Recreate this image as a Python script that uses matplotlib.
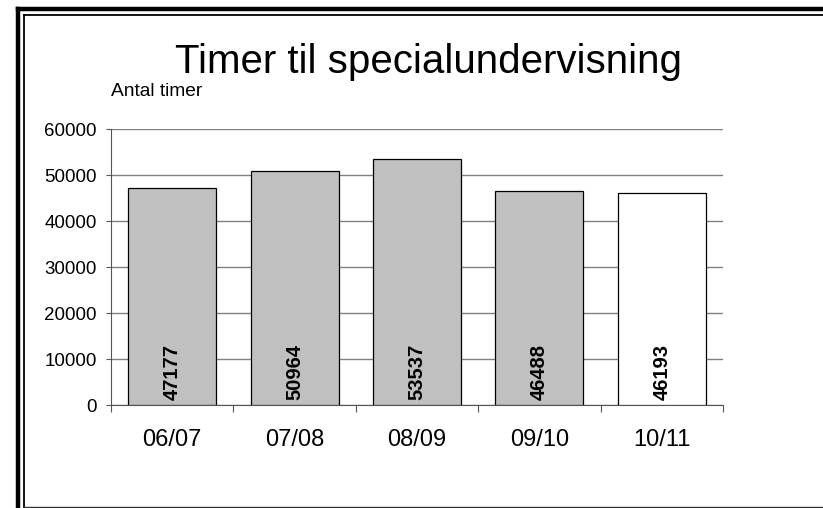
import matplotlib
matplotlib.use("Agg")
import matplotlib.pyplot as plt
from matplotlib.lines import Line2D

categories = ["06/07", "07/08", "08/09", "09/10", "10/11"]
values = [47177, 50964, 53537, 46488, 46193]
colors = ["#c0c0c0", "#c0c0c0", "#c0c0c0", "#c0c0c0", "#ffffff"]
yticks = [0, 10000, 20000, 30000, 40000, 50000, 60000]

W, H = 823, 508
fig = plt.figure(figsize=(W / 100, H / 100), dpi=100)
plt.rcParams['font.family'] = ['Liberation Sans', 'DejaVu Sans']

def fx(px):
    return px / W

def fy(py):
    return 1 - py / H

# frame
fig.add_artist(Line2D([fx(18), fx(18)], [fy(9), fy(510)], color="black", lw=3.2))
fig.add_artist(Line2D([fx(18), fx(830)], [fy(9), fy(9)], color="black", lw=3.2))
fig.add_artist(Line2D([fx(23.5), fx(23.5)], [fy(14.5), fy(506.5)], color="black", lw=1.3))
fig.add_artist(Line2D([fx(23.5), fx(830)], [fy(14.5), fy(14.5)], color="black", lw=1.3))
fig.add_artist(Line2D([fx(23.5), fx(830)], [fy(506.5), fy(506.5)], color="#333333", lw=1.0))

ax = fig.add_axes([fx(111), fy(405), fx(723) - fx(111), fy(129) - fy(405)])
x = list(range(len(categories)))
ax.bar(x, values, width=0.72, color=colors, edgecolor="black", linewidth=0.9, zorder=3)
ax.set_xlim(-0.5, len(categories) - 0.5)
ax.set_ylim(0, 60000)
ax.set_yticks(yticks)
ax.set_yticklabels([str(t) for t in yticks], fontsize=13.5)
ax.yaxis.grid(True, color="#808080", linewidth=1.0, zorder=0)
ax.set_axisbelow(True)

ax.set_xticks([i - 0.5 for i in range(len(categories) + 1)], minor=False)
ax.set_xticklabels([""] * (len(categories) + 1))
ax.set_xticks(x, minor=True)
ax.set_xticklabels(categories, minor=True, fontsize=17)
ax.tick_params(axis="x", which="minor", length=0, pad=17.3)
ax.tick_params(axis="x", which="major", direction="out", length=5, color="#555555", width=0.8)
ax.tick_params(axis="y", direction="out", length=3.6, color="#555555", width=0.8, pad=6.5)

for s in ["top", "right"]:
    ax.spines[s].set_visible(False)
ax.spines["left"].set_color("#555555")
ax.spines["bottom"].set_color("#555555")
ax.spines["left"].set_linewidth(0.8)
ax.spines["bottom"].set_linewidth(0.8)

for xi, v in zip(x, values):
    ax.text(xi, 1100, str(v), rotation=90, ha="center", va="bottom",
            fontsize=14.5, fontweight="bold", zorder=4)

fig.text(fx(428.5), fy(73), "Timer til specialundervisning", ha="center", va="baseline", fontsize=29)
fig.text(fx(111), fy(96), "Antal timer", ha="left", va="baseline", fontsize=13.8)

fig.savefig("out.png", dpi=100)
